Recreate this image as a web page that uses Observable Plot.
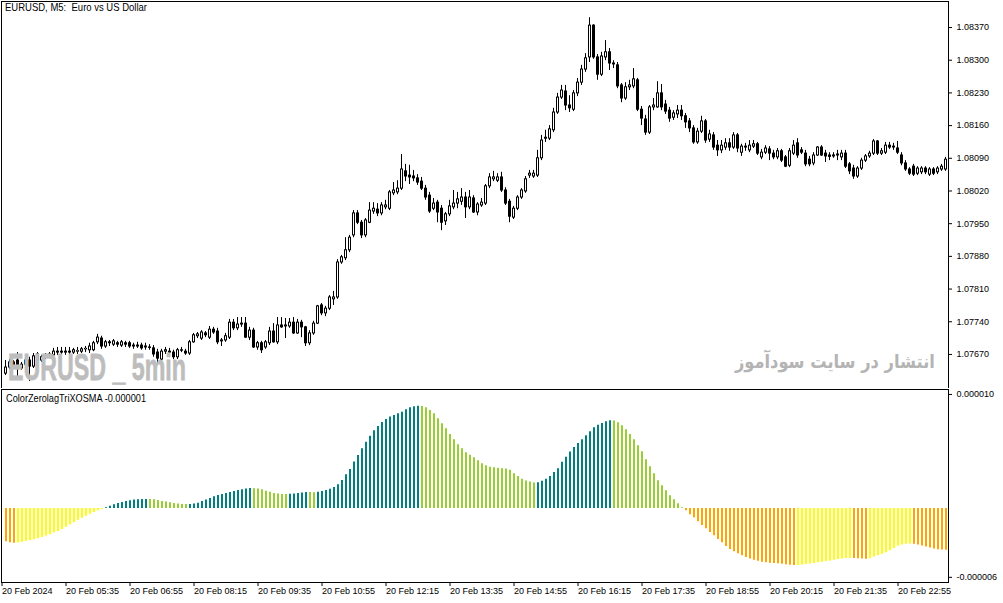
<!DOCTYPE html>
<html><head><meta charset="utf-8">
<script src="https://cdn.jsdelivr.net/npm/d3@7"></script>
<script src="https://cdn.jsdelivr.net/npm/@observablehq/plot@0.6"></script>
<style>
body{margin:0;background:#fff;}
#wrap{position:relative;width:1003px;height:603px;overflow:hidden;background:#fff;font-family:"Liberation Sans",Arial,sans-serif;}
#topPanel,#botPanel{position:absolute;left:0;}
#topPanel{top:0}
#botPanel{top:388px}
.lbl{position:absolute;white-space:nowrap;line-height:1;display:inline-block;}
</style></head><body>
<div id="wrap">
<div id="topPanel"></div><div id="botPanel"></div>
<div class="lbl" id="title" style="left:5px;top:1.5px;font-size:10.5px;color:#000;">EURUSD, M5:&nbsp; Euro vs US Dollar</div>
<div class="lbl" id="ind" style="left:6px;top:393.5px;font-size:10px;color:#000;">ColorZerolagTriXOSMA -0.000001</div>
<div class="lbl" id="wm1" style="left:8px;top:349px;font-size:37px;font-weight:bold;color:#bdbdbd;font-family:'Liberation Sans',Arial,sans-serif;-webkit-text-stroke:0.8px #bdbdbd;">EURUSD _ 5min</div>
<div class="lbl" id="wm2" dir="rtl" style="right:68px;top:352px;font-size:19px;font-weight:bold;color:#b4b4b4;font-family:'DejaVu Sans',sans-serif;">انتشار در سایت سودآموز</div>
</div>
<script>
const opens=[
1.07629,1.07642,1.07653,1.07657,1.07640,1.07648,1.07657,1.07644,1.07670,1.07657,
1.07664,1.07666,1.07668,1.07674,1.07676,1.07674,1.07676,1.07674,1.07676,1.07676,
1.07681,1.07679,1.07679,1.07696,1.07704,1.07687,1.07696,1.07691,1.07694,1.07689,
1.07694,1.07694,1.07689,1.07689,1.07689,1.07687,1.07685,1.07683,1.07674,1.07659,
1.07676,1.07674,1.07674,1.07664,1.07679,1.07676,1.07672,1.07696,1.07709,1.07704,
1.07715,1.07706,1.07723,1.07719,1.07698,1.07700,1.07706,1.07738,1.07726,1.07734,
1.07736,1.07706,1.07721,1.07685,1.07694,1.07685,1.07694,1.07719,1.07696,1.07732,
1.07730,1.07730,1.07738,1.07715,1.07738,1.07728,1.07694,1.07715,1.07736,1.07775,
1.07758,1.07768,1.07788,1.07792,1.07867,1.07876,1.07893,1.07925,1.07972,1.07952,
1.07925,1.07952,1.07976,1.07980,1.07972,1.07985,1.07982,1.08015,1.08017,1.08025,
1.08062,1.08053,1.08051,1.08047,1.08040,1.08025,1.08010,1.07982,1.07995,1.07982,
1.07955,1.07970,1.07985,1.07993,1.07997,1.08006,1.07985,1.08004,1.07974,1.07989,
1.07993,1.08030,1.08045,1.08042,1.08049,1.08021,1.07997,1.07963,1.07982,1.08006,
1.08019,1.08053,1.08051,1.08053,1.08090,1.08132,1.08132,1.08150,1.08188,1.08220,
1.08233,1.08203,1.08194,1.08229,1.08252,1.08280,1.08306,1.08374,1.08306,1.08269,
1.08306,1.08317,1.08293,1.08289,1.08246,1.08218,1.08242,1.08244,1.08257,1.08194,
1.08173,1.08145,1.08199,1.08199,1.08229,1.08205,1.08192,1.08177,1.08184,1.08192,
1.08180,1.08169,1.08154,1.08124,1.08147,1.08169,1.08130,1.08139,1.08117,1.08107,
1.08113,1.08122,1.08113,1.08139,1.08102,1.08115,1.08107,1.08115,1.08120,1.08092,
1.08102,1.08109,1.08100,1.08092,1.08105,1.08092,1.08074,1.08100,1.08122,1.08107,
1.08100,1.08087,1.08079,1.08096,1.08113,1.08100,1.08096,1.08094,1.08096,1.08092,
1.08100,1.08077,1.08068,1.08051,1.08068,1.08085,1.08094,1.08100,1.08126,1.08100,
1.08102,1.08117,1.08115,1.08111,1.08096,1.08079,1.08066,1.08072,1.08057,1.08060,
1.08068,1.08055,1.08066,1.08060,1.08066,1.08066];
const highs=[
1.07657,1.07659,1.07657,1.07674,1.07653,1.07664,1.07664,1.07672,1.07674,1.07668,
1.07672,1.07674,1.07683,1.07685,1.07685,1.07685,1.07685,1.07683,1.07685,1.07685,
1.07687,1.07694,1.07698,1.07713,1.07709,1.07700,1.07700,1.07702,1.07698,1.07700,
1.07698,1.07698,1.07694,1.07696,1.07694,1.07694,1.07691,1.07689,1.07681,1.07681,
1.07685,1.07683,1.07679,1.07683,1.07685,1.07681,1.07700,1.07715,1.07717,1.07721,
1.07719,1.07730,1.07728,1.07726,1.07704,1.07715,1.07745,1.07745,1.07749,1.07749,
1.07749,1.07728,1.07726,1.07698,1.07698,1.07700,1.07728,1.07736,1.07749,1.07749,
1.07747,1.07747,1.07749,1.07745,1.07743,1.07730,1.07721,1.07741,1.07775,1.07779,
1.07773,1.07796,1.07805,1.07873,1.07882,1.07920,1.07925,1.07978,1.07978,1.07957,
1.07961,1.07995,1.07995,1.07993,1.07995,1.08000,1.08021,1.08038,1.08042,1.08098,
1.08077,1.08075,1.08064,1.08055,1.08049,1.08032,1.08017,1.08004,1.08000,1.07989,
1.07974,1.08000,1.08021,1.08017,1.08025,1.08017,1.08021,1.08010,1.07995,1.08004,
1.08034,1.08057,1.08062,1.08057,1.08060,1.08027,1.08002,1.07987,1.08010,1.08025,
1.08051,1.08064,1.08064,1.08107,1.08139,1.08150,1.08160,1.08197,1.08229,1.08246,
1.08246,1.08224,1.08235,1.08261,1.08289,1.08314,1.08391,1.08376,1.08312,1.08317,
1.08342,1.08325,1.08299,1.08295,1.08250,1.08252,1.08257,1.08282,1.08261,1.08201,
1.08182,1.08203,1.08218,1.08254,1.08248,1.08214,1.08199,1.08192,1.08203,1.08203,
1.08186,1.08175,1.08160,1.08154,1.08180,1.08173,1.08150,1.08145,1.08128,1.08128,
1.08132,1.08132,1.08145,1.08143,1.08120,1.08122,1.08128,1.08128,1.08124,1.08109,
1.08117,1.08115,1.08107,1.08111,1.08109,1.08096,1.08111,1.08128,1.08132,1.08113,
1.08107,1.08094,1.08102,1.08115,1.08117,1.08107,1.08102,1.08102,1.08107,1.08107,
1.08107,1.08081,1.08075,1.08072,1.08090,1.08098,1.08105,1.08130,1.08128,1.08111,
1.08124,1.08124,1.08122,1.08126,1.08102,1.08085,1.08070,1.08077,1.08072,1.08072,
1.08072,1.08070,1.08070,1.08072,1.08077,1.08092];
const lows=[
1.07625,1.07638,1.07640,1.07619,1.07636,1.07644,1.07612,1.07640,1.07653,1.07653,
1.07659,1.07661,1.07664,1.07668,1.07668,1.07668,1.07668,1.07670,1.07670,1.07672,
1.07674,1.07672,1.07676,1.07691,1.07681,1.07683,1.07687,1.07687,1.07685,1.07685,
1.07685,1.07683,1.07681,1.07683,1.07679,1.07679,1.07679,1.07664,1.07648,1.07655,
1.07670,1.07668,1.07659,1.07659,1.07674,1.07668,1.07668,1.07694,1.07704,1.07700,
1.07706,1.07702,1.07713,1.07691,1.07687,1.07696,1.07702,1.07721,1.07721,1.07728,
1.07704,1.07700,1.07683,1.07679,1.07672,1.07681,1.07689,1.07694,1.07691,1.07726,
1.07704,1.07726,1.07713,1.07713,1.07706,1.07687,1.07689,1.07711,1.07734,1.07753,
1.07751,1.07764,1.07775,1.07788,1.07863,1.07871,1.07888,1.07920,1.07948,1.07918,
1.07920,1.07950,1.07970,1.07965,1.07967,1.07980,1.07978,1.08010,1.08012,1.08021,
1.08040,1.08034,1.08040,1.08032,1.08021,1.08000,1.07972,1.07978,1.07952,1.07935,
1.07946,1.07965,1.07980,1.07982,1.07989,1.07961,1.07980,1.07972,1.07967,1.07985,
1.07989,1.08025,1.08040,1.08038,1.08017,1.07989,1.07952,1.07959,1.07978,1.08002,
1.08015,1.08047,1.08047,1.08049,1.08085,1.08124,1.08128,1.08145,1.08184,1.08216,
1.08192,1.08188,1.08190,1.08222,1.08246,1.08274,1.08295,1.08302,1.08257,1.08265,
1.08299,1.08278,1.08282,1.08239,1.08209,1.08214,1.08235,1.08239,1.08190,1.08160,
1.08139,1.08141,1.08192,1.08197,1.08192,1.08184,1.08167,1.08171,1.08175,1.08171,
1.08154,1.08145,1.08120,1.08120,1.08143,1.08122,1.08124,1.08107,1.08094,1.08100,
1.08107,1.08105,1.08109,1.08102,1.08094,1.08105,1.08102,1.08111,1.08096,1.08087,
1.08098,1.08085,1.08087,1.08087,1.08081,1.08070,1.08070,1.08096,1.08090,1.08098,
1.08072,1.08072,1.08074,1.08094,1.08094,1.08081,1.08085,1.08090,1.08085,1.08085,
1.08068,1.08055,1.08045,1.08047,1.08064,1.08081,1.08090,1.08096,1.08096,1.08096,
1.08098,1.08109,1.08107,1.08098,1.08074,1.08062,1.08053,1.08051,1.08053,1.08055,
1.08055,1.08051,1.08053,1.08055,1.08062,1.08062];
const closes=[
1.07642,1.07653,1.07646,1.07640,1.07648,1.07657,1.07644,1.07666,1.07657,1.07664,
1.07668,1.07670,1.07676,1.07676,1.07674,1.07676,1.07674,1.07679,1.07677,1.07681,
1.07682,1.07687,1.07694,1.07706,1.07687,1.07696,1.07694,1.07698,1.07691,1.07696,
1.07691,1.07687,1.07687,1.07687,1.07683,1.07685,1.07684,1.07670,1.07661,1.07676,
1.07679,1.07676,1.07664,1.07679,1.07678,1.07672,1.07696,1.07711,1.07713,1.07717,
1.07711,1.07723,1.07717,1.07696,1.07700,1.07709,1.07738,1.07726,1.07734,1.07736,
1.07706,1.07721,1.07685,1.07694,1.07679,1.07696,1.07719,1.07696,1.07732,1.07728,
1.07732,1.07738,1.07715,1.07738,1.07728,1.07694,1.07715,1.07736,1.07773,1.07758,
1.07768,1.07792,1.07792,1.07867,1.07878,1.07893,1.07920,1.07972,1.07952,1.07925,
1.07957,1.07978,1.07982,1.07972,1.07989,1.07989,1.08017,1.08021,1.08025,1.08066,
1.08051,1.08049,1.08047,1.08038,1.08025,1.08006,1.07976,1.07993,1.07974,1.07952,
1.07970,1.07987,1.07993,1.08002,1.08006,1.07985,1.08006,1.07974,1.07991,1.07995,
1.08030,1.08049,1.08049,1.08049,1.08021,1.07993,1.07965,1.07982,1.08006,1.08021,
1.08045,1.08057,1.08057,1.08090,1.08128,1.08134,1.08152,1.08188,1.08220,1.08235,
1.08203,1.08197,1.08229,1.08252,1.08280,1.08304,1.08374,1.08306,1.08269,1.08308,
1.08317,1.08293,1.08291,1.08244,1.08218,1.08242,1.08246,1.08259,1.08194,1.08175,
1.08145,1.08199,1.08203,1.08229,1.08199,1.08190,1.08175,1.08186,1.08192,1.08180,
1.08167,1.08154,1.08124,1.08147,1.08169,1.08128,1.08141,1.08113,1.08107,1.08117,
1.08122,1.08113,1.08139,1.08111,1.08115,1.08113,1.08117,1.08120,1.08100,1.08102,
1.08111,1.08100,1.08092,1.08105,1.08085,1.08072,1.08105,1.08117,1.08096,1.08102,
1.08077,1.08077,1.08096,1.08113,1.08096,1.08094,1.08093,1.08096,1.08098,1.08100,
1.08072,1.08062,1.08051,1.08068,1.08085,1.08094,1.08100,1.08126,1.08100,1.08105,
1.08117,1.08113,1.08113,1.08102,1.08079,1.08066,1.08057,1.08055,1.08068,1.08068,
1.08060,1.08066,1.08057,1.08068,1.08072,1.08087];
// indicator values in millionths (1e-6)
const osmaMicro=[
-2.82,-2.90,-2.95,-2.93,-2.87,-2.79,-2.72,-2.65,-2.56,-2.46,
-2.34,-2.22,-2.08,-1.94,-1.77,-1.58,-1.38,-1.19,-0.99,-0.82,
-0.65,-0.48,-0.34,-0.20,-0.08,0.06,0.20,0.31,0.42,0.51,
0.59,0.66,0.71,0.74,0.76,0.77,0.76,0.73,0.68,0.60,
0.54,0.48,0.42,0.37,0.34,0.33,0.34,0.37,0.45,0.59,
0.71,0.85,0.99,1.10,1.19,1.27,1.36,1.44,1.53,1.59,
1.66,1.69,1.68,1.65,1.58,1.47,1.38,1.28,1.22,1.19,
1.18,1.20,1.23,1.27,1.32,1.36,1.35,1.34,1.38,1.44,
1.53,1.64,1.78,2.01,2.37,2.85,3.31,3.93,4.49,5.06,
5.62,6.13,6.58,6.95,7.29,7.54,7.74,7.88,8.02,8.16,
8.36,8.53,8.62,8.66,8.64,8.53,8.31,8.02,7.60,7.18,
6.75,6.27,5.82,5.40,5.06,4.72,4.52,4.29,4.05,3.80,
3.63,3.49,3.46,3.40,3.37,3.34,3.23,2.94,2.71,2.48,
2.33,2.25,2.16,2.19,2.31,2.48,2.71,3.05,3.37,3.92,
4.35,4.78,5.16,5.50,5.82,6.17,6.51,6.83,7.05,7.20,
7.34,7.43,7.42,7.26,7.00,6.67,6.27,5.82,5.31,4.80,
4.12,3.53,2.94,2.34,1.92,1.50,1.07,0.73,0.40,0.06,
-0.20,-0.54,-0.79,-1.13,-1.44,-1.72,-2.03,-2.32,-2.63,-2.91,
-3.22,-3.47,-3.67,-3.84,-4.01,-4.15,-4.27,-4.38,-4.46,-4.55,
-4.60,-4.63,-4.66,-4.69,-4.73,-4.77,-4.81,-4.84,-4.82,-4.79,
-4.75,-4.70,-4.65,-4.60,-4.55,-4.50,-4.44,-4.38,-4.32,-4.27,
-4.24,-4.22,-4.24,-4.26,-4.28,-4.29,-4.25,-4.12,-3.98,-3.90,
-3.75,-3.58,-3.38,-3.20,-3.09,-3.03,-3.00,-3.04,-3.09,-3.18,
-3.27,-3.35,-3.43,-3.50,-3.52,-3.53];
// colour runs: [first bar index, colour]
const colorRuns=[[0,"#FFA500"],[3,"#FFFF00"],[25,"#008080"],[36,"#9ACD32"],[46,"#008080"],[62,"#9ACD32"],[71,"#008080"],[76,"#9ACD32"],[78,"#008080"],[104,"#9ACD32"],[133,"#008080"],[152,"#9ACD32"],[170,"#FFA500"],[198,"#FFFF00"],[212,"#FFA500"],[216,"#FFFF00"],[227,"#FFA500"]];
const priceTicks=[1.08370,1.08300,1.08230,1.08160,1.08090,1.08020,1.07950,1.07880,1.07810,1.07740,1.07670];
const timeLabels=["20 Feb 2024","20 Feb 05:35","20 Feb 06:55","20 Feb 08:15","20 Feb 09:35","20 Feb 10:55","20 Feb 12:15","20 Feb 13:35","20 Feb 14:55","20 Feb 16:15","20 Feb 17:35","20 Feb 18:55","20 Feb 20:15","20 Feb 21:35","20 Feb 22:55"];
const barsPerLabel=16;
const osmaTicks=[10,-6];
const osmaTickLabels=["0.000010","-0.000006"];

const n=closes.length;
const candles=d3.range(n).map(i=>({i,o:opens[i],h:highs[i],l:lows[i],c:closes[i],up:closes[i]>=opens[i],
  top:Math.max(opens[i],closes[i]),bot:Math.min(opens[i],closes[i])}));
const barColor=d3.range(n).map(i=>{let c=colorRuns[0][1];for(const [s,col] of colorRuns){if(i>=s)c=col;}return c;});
const bars=d3.range(n).map(i=>({i,v:osmaMicro[i],col:barColor[i]}));

const font='"Liberation Sans",Arial,sans-serif';
const xDomain=[-1,235.75];
const common={width:1003,marginLeft:1,marginRight:55,style:{background:"transparent",fontFamily:font,fontSize:"9px",color:"#000"}};

const priceChart=Plot.plot({...common,height:388,marginTop:1,marginBottom:0,
  x:{domain:xDomain,axis:null},
  y:{domain:[1.075971,1.084257],axis:null},
  marks:[
    Plot.frame({stroke:"#000"}),
    // wicks
    Plot.ruleX(candles,{x:"i",y1:d=>Math.max(d.h,d.top),y2:d=>Math.min(d.l,d.bot),stroke:"#000",strokeWidth:1}),
    // bodies (black outline / fill, at least one pixel tall)
    Plot.ruleX(candles,{x:"i",y1:"top",y2:"bot",stroke:"#000",strokeWidth:3,insetTop:-0.5,insetBottom:-0.5}),
    // hollow interior of rising candles
    Plot.ruleX(candles.filter(d=>d.up),{x:"i",y1:"top",y2:"bot",stroke:"#fff",strokeWidth:1,insetTop:0.5,insetBottom:0.5}),
    Plot.axisY({anchor:"right",ticks:priceTicks,tickFormat:d=>d.toFixed(5),tickSize:3,tickPadding:5,fontSize:9,label:null})
  ]});
document.getElementById("topPanel").appendChild(priceChart);

const tickIdx=timeLabels.map((_,k)=>k*barsPerLabel-0.875);
const osmaChart=Plot.plot({...common,height:215,marginTop:1,marginBottom:21,
  x:{domain:xDomain,label:null},
  y:{domain:[-6.27,10.08],label:null},
  color:{type:"identity"},
  marks:[
    Plot.frame({stroke:"#000"}),
    Plot.ruleX(bars,{x:"i",y1:"v",y2:0,stroke:"col",strokeWidth:2,dx:0.5}),
    Plot.axisX({anchor:"bottom",ticks:tickIdx,tickFormat:d=>timeLabels[Math.round((d+0.875)/barsPerLabel)],tickSize:4,tickPadding:1,textAnchor:"start",fontSize:9,label:null}),
    Plot.axisY({anchor:"right",ticks:[osmaTicks[0]],tickFormat:()=>osmaTickLabels[0],tickSize:3,tickPadding:5,dy:4,fontSize:9,label:null}),
    Plot.axisY({anchor:"right",ticks:[osmaTicks[1]],tickFormat:()=>osmaTickLabels[1],tickSize:3,tickPadding:5,dy:-2,fontSize:9,label:null})
  ]});
document.getElementById("botPanel").appendChild(osmaChart);

function fit(id,w,origin){const el=document.getElementById(id);el.style.transform="none";const r=el.getBoundingClientRect().width;if(r>0){el.style.transformOrigin=origin;el.style.transform=`scaleX(${w/r})`;}}
function fitAll(){fit("title",142,"left");fit("ind",140,"left");fit("wm1",178,"left");fit("wm2",200,"right");}
fitAll();
if(document.fonts&&document.fonts.ready)document.fonts.ready.then(fitAll);
</script>
</body></html>
